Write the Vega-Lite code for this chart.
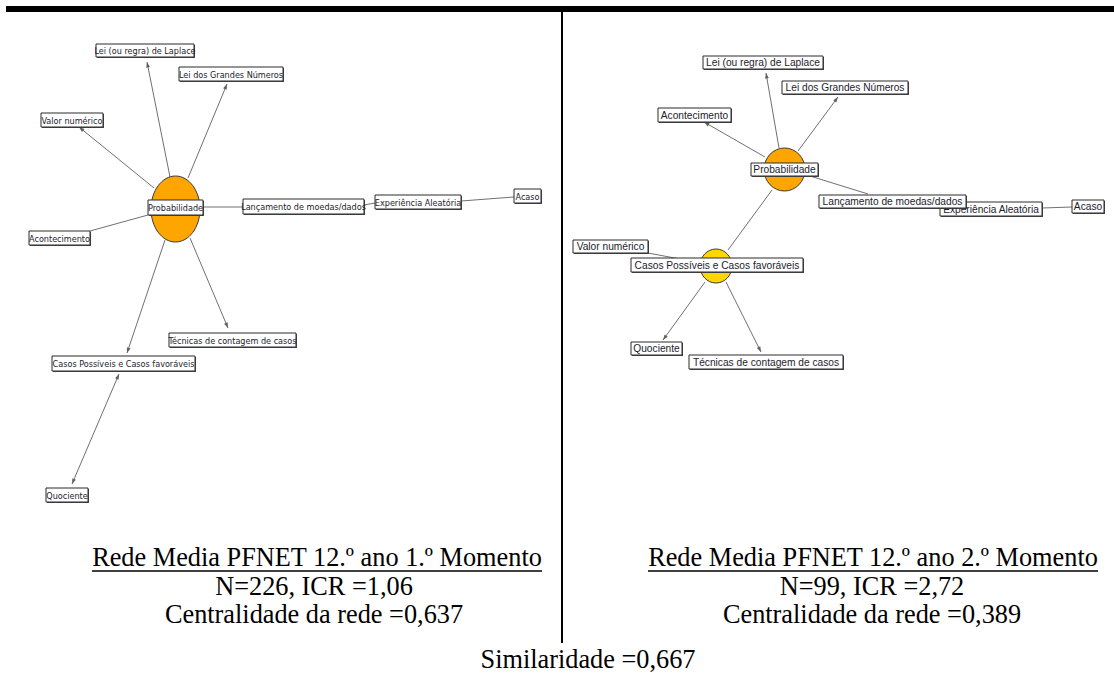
{
  "$schema": "https://vega.github.io/schema/vega-lite/v6.json",
  "width": 1114,
  "height": 678,
  "autosize": {"type": "fit", "contains": "padding"},
  "padding": 0,
  "background": "white",
  "config": {"view": {"stroke": null}},
  "datasets": {
    "nodes": [
      {"p": 1, "label": "Probabilidade", "x1": 148, "x2": 203, "y1": 200, "y2": 215},
      {"p": 1, "label": "Lei (ou regra) de Laplace", "x1": 96, "x2": 194, "y1": 44, "y2": 57},
      {"p": 1, "label": "Lei dos Grandes Números", "x1": 179, "x2": 283, "y1": 67, "y2": 81},
      {"p": 1, "label": "Valor numérico", "x1": 41, "x2": 103, "y1": 113, "y2": 127},
      {"p": 1, "label": "Acontecimento", "x1": 29, "x2": 90, "y1": 231, "y2": 245},
      {"p": 1, "label": "Lançamento de moedas/dados", "x1": 243, "x2": 364, "y1": 199, "y2": 214},
      {"p": 1, "label": "Experiência Aleatória", "x1": 375, "x2": 461, "y1": 195, "y2": 209},
      {"p": 1, "label": "Acaso", "x1": 514, "x2": 541, "y1": 189, "y2": 203},
      {"p": 1, "label": "Técnicas de contagem de casos", "x1": 169, "x2": 296, "y1": 333, "y2": 347},
      {"p": 1, "label": "Casos Possíveis e Casos favoráveis", "x1": 52, "x2": 195, "y1": 356, "y2": 371},
      {"p": 1, "label": "Quociente", "x1": 46, "x2": 88, "y1": 488, "y2": 502},
      {"p": 2, "label": "Probabilidade", "x1": 751, "x2": 818, "y1": 163, "y2": 176},
      {"p": 2, "label": "Lei (ou regra) de Laplace", "x1": 703, "x2": 823, "y1": 56, "y2": 69},
      {"p": 2, "label": "Lei dos Grandes Números", "x1": 782, "x2": 908, "y1": 81, "y2": 94},
      {"p": 2, "label": "Acontecimento", "x1": 658, "x2": 731, "y1": 108, "y2": 122},
      {"p": 2, "label": "Experiência Aleatória", "x1": 940, "x2": 1042, "y1": 202, "y2": 216},
      {"p": 2, "label": "Lançamento de moedas/dados", "x1": 819, "x2": 966, "y1": 195, "y2": 208, "top": true},
      {"p": 2, "label": "Acaso", "x1": 1072, "x2": 1104, "y1": 200, "y2": 213},
      {"p": 2, "label": "Casos Possíveis e Casos favoráveis", "x1": 631, "x2": 803, "y1": 258, "y2": 272},
      {"p": 2, "label": "Valor numérico", "x1": 573, "x2": 648, "y1": 240, "y2": 253},
      {"p": 2, "label": "Quociente", "x1": 631, "x2": 682, "y1": 342, "y2": 355},
      {"p": 2, "label": "Técnicas de contagem de casos", "x1": 689, "x2": 843, "y1": 355, "y2": 369}
    ],
    "edges": [
      {"p": 1, "x": 170, "y": 177, "x2": 147, "y2": 62, "arrow": "end"},
      {"p": 1, "x": 188, "y": 178, "x2": 227, "y2": 84, "arrow": "end"},
      {"p": 1, "x": 154, "y": 188, "x2": 79, "y2": 127, "arrow": "end"},
      {"p": 1, "x": 148, "y": 215, "x2": 90, "y2": 231, "arrow": "none"},
      {"p": 1, "x": 203, "y": 207, "x2": 243, "y2": 207, "arrow": "none"},
      {"p": 1, "x": 364, "y": 205, "x2": 375, "y2": 203, "arrow": "none"},
      {"p": 1, "x": 461, "y": 201, "x2": 514, "y2": 197, "arrow": "none"},
      {"p": 1, "x": 190, "y": 238, "x2": 228, "y2": 328, "arrow": "end"},
      {"p": 1, "x": 165, "y": 240, "x2": 127, "y2": 353, "arrow": "end"},
      {"p": 1, "x": 119, "y": 374, "x2": 72, "y2": 484, "arrow": "both"},
      {"p": 2, "x": 779, "y": 148, "x2": 766, "y2": 73, "arrow": "end"},
      {"p": 2, "x": 798, "y": 151, "x2": 838, "y2": 97, "arrow": "end"},
      {"p": 2, "x": 765, "y": 157, "x2": 704, "y2": 122, "arrow": "end"},
      {"p": 2, "x": 810, "y": 176, "x2": 868, "y2": 194, "arrow": "none"},
      {"p": 2, "x": 772, "y": 190, "x2": 728, "y2": 250, "arrow": "none"},
      {"p": 2, "x": 1042, "y": 208, "x2": 1072, "y2": 207, "arrow": "none"},
      {"p": 2, "x": 648, "y": 253, "x2": 680, "y2": 259, "arrow": "none"},
      {"p": 2, "x": 705, "y": 282, "x2": 663, "y2": 340, "arrow": "end"},
      {"p": 2, "x": 726, "y": 282, "x2": 761, "y2": 352, "arrow": "end"}
    ],
    "captions": [
      {"x": 317, "y": 566, "text": "Rede Media PFNET 12.º ano 1.º Momento"},
      {"x": 314, "y": 595, "text": "N=226, ICR =1,06"},
      {"x": 314, "y": 623, "text": "Centralidade da rede =0,637"},
      {"x": 873, "y": 566, "text": "Rede Media PFNET 12.º ano 2.º Momento"},
      {"x": 872, "y": 595, "text": "N=99, ICR =2,72"},
      {"x": 872, "y": 623, "text": "Centralidade da rede =0,389"},
      {"x": 588, "y": 668, "text": "Similaridade =0,667"}
    ],
    "rules": [
      {"kind": "underline", "x": 92, "x2": 542, "y": 571, "y2": 571},
      {"kind": "underline", "x": 648, "x2": 1098, "y": 571, "y2": 571},
      {"kind": "divider", "x": 562, "x2": 562, "y": 12, "y2": 643}
    ],
    "bars": [
      {"x": 6, "x2": 1114, "y": 6, "y2": 12}
    ]
  },
  "layer": [
    {
      "data": {"name": "bars"},
      "mark": {"type": "rect", "fill": "black"},
      "encoding": {
        "x": {"field": "x", "type": "quantitative", "scale": {"domain": [0, 1114], "nice": false, "zero": false}, "axis": null},
        "x2": {"field": "x2"},
        "y": {"field": "y", "type": "quantitative", "scale": {"domain": [0, 678], "nice": false, "zero": false, "reverse": true}, "axis": null},
        "y2": {"field": "y2"}
      }
    },
    {
      "data": {"name": "rules"},
      "transform": [{"filter": "datum.kind == 'divider'"}],
      "mark": {"type": "rule", "color": "black", "strokeWidth": 2},
      "encoding": {
        "x": {"field": "x", "type": "quantitative", "scale": {"domain": [0, 1114], "nice": false, "zero": false}, "axis": null},
        "x2": {"field": "x2"},
        "y": {"field": "y", "type": "quantitative", "scale": {"domain": [0, 678], "nice": false, "zero": false, "reverse": true}, "axis": null},
        "y2": {"field": "y2"}
      }
    },
    {
      "data": {"name": "rules"},
      "transform": [{"filter": "datum.kind == 'underline'"}],
      "mark": {"type": "rule", "color": "black", "strokeWidth": 1.5},
      "encoding": {
        "x": {"field": "x", "type": "quantitative", "scale": {"domain": [0, 1114], "nice": false, "zero": false}, "axis": null},
        "x2": {"field": "x2"},
        "y": {"field": "y", "type": "quantitative", "scale": {"domain": [0, 678], "nice": false, "zero": false, "reverse": true}, "axis": null},
        "y2": {"field": "y2"}
      }
    },
    {
      "data": {"name": "edges"},
      "mark": {"type": "rule", "color": "#707070", "strokeWidth": 1},
      "encoding": {
        "x": {"field": "x", "type": "quantitative", "scale": {"domain": [0, 1114], "nice": false, "zero": false}, "axis": null},
        "x2": {"field": "x2"},
        "y": {"field": "y", "type": "quantitative", "scale": {"domain": [0, 678], "nice": false, "zero": false, "reverse": true}, "axis": null},
        "y2": {"field": "y2"}
      }
    },
    {
      "data": {"name": "edges"},
      "transform": [
        {"filter": "datum.arrow != 'none'"},
        {"calculate": "atan2(datum.x2 - datum.x, datum.y - datum.y2) * 180 / PI", "as": "angle"}
      ],
      "mark": {"type": "point", "shape": "M 0 0 L 0.7 2 L -0.7 2 Z", "size": 30, "filled": true, "fill": "#606060", "strokeWidth": 0, "opacity": 1},
      "encoding": {
        "x": {"field": "x2", "type": "quantitative", "scale": {"domain": [0, 1114], "nice": false, "zero": false}, "axis": null},
        "y": {"field": "y2", "type": "quantitative", "scale": {"domain": [0, 678], "nice": false, "zero": false, "reverse": true}, "axis": null},
        "angle": {"field": "angle", "type": "quantitative", "scale": null}
      }
    },
    {
      "data": {"name": "edges"},
      "transform": [
        {"filter": "datum.arrow == 'both'"},
        {"calculate": "atan2(datum.x - datum.x2, datum.y2 - datum.y) * 180 / PI", "as": "angle"}
      ],
      "mark": {"type": "point", "shape": "M 0 0 L 0.7 2 L -0.7 2 Z", "size": 30, "filled": true, "fill": "#606060", "strokeWidth": 0, "opacity": 1},
      "encoding": {
        "x": {"field": "x", "type": "quantitative", "scale": {"domain": [0, 1114], "nice": false, "zero": false}, "axis": null},
        "y": {"field": "y", "type": "quantitative", "scale": {"domain": [0, 678], "nice": false, "zero": false, "reverse": true}, "axis": null},
        "angle": {"field": "angle", "type": "quantitative", "scale": null}
      }
    },
    {
      "data": {"name": "nodes"},
      "transform": [
        {"filter": "datum.p == 1 && datum.label == 'Probabilidade'"},
        {"calculate": "(datum.x1 + datum.x2) / 2", "as": "cx"},
        {"calculate": "(datum.y1 + datum.y2) / 2 + 1.5", "as": "cy"}
      ],
      "mark": {"type": "point", "shape": "M -0.742 0 A 0.742 1 0 1 0 0.742 0 A 0.742 1 0 1 0 -0.742 0 Z", "size": 4356, "filled": true, "fill": "#FFA500", "stroke": "#3a3a3a", "strokeWidth": 1, "opacity": 1},
      "encoding": {
        "x": {"field": "cx", "type": "quantitative", "scale": {"domain": [0, 1114], "nice": false, "zero": false}, "axis": null},
        "y": {"field": "cy", "type": "quantitative", "scale": {"domain": [0, 678], "nice": false, "zero": false, "reverse": true}, "axis": null}
      }
    },
    {
      "data": {"name": "nodes"},
      "transform": [
        {"filter": "datum.p == 2 && datum.label == 'Probabilidade'"},
        {"calculate": "(datum.x1 + datum.x2) / 2", "as": "cx"},
        {"calculate": "(datum.y1 + datum.y2) / 2", "as": "cy"}
      ],
      "mark": {"type": "point", "shape": "M -0.953 0 A 0.953 1 0 1 0 0.953 0 A 0.953 1 0 1 0 -0.953 0 Z", "size": 1849, "filled": true, "fill": "#FFA500", "stroke": "#3a3a3a", "strokeWidth": 1, "opacity": 1},
      "encoding": {
        "x": {"field": "cx", "type": "quantitative", "scale": {"domain": [0, 1114], "nice": false, "zero": false}, "axis": null},
        "y": {"field": "cy", "type": "quantitative", "scale": {"domain": [0, 678], "nice": false, "zero": false, "reverse": true}, "axis": null}
      }
    },
    {
      "data": {"name": "nodes"},
      "transform": [
        {"filter": "datum.p == 2 && datum.label == 'Casos Possíveis e Casos favoráveis'"},
        {"calculate": "(datum.x1 + datum.x2) / 2 - 1", "as": "cx"},
        {"calculate": "(datum.y1 + datum.y2) / 2 + 1", "as": "cy"}
      ],
      "mark": {"type": "point", "shape": "M -0.94 0 A 0.94 1 0 1 0 0.94 0 A 0.94 1 0 1 0 -0.94 0 Z", "size": 1156, "filled": true, "fill": "#FFD700", "stroke": "#3a3a3a", "strokeWidth": 1, "opacity": 1},
      "encoding": {
        "x": {"field": "cx", "type": "quantitative", "scale": {"domain": [0, 1114], "nice": false, "zero": false}, "axis": null},
        "y": {"field": "cy", "type": "quantitative", "scale": {"domain": [0, 678], "nice": false, "zero": false, "reverse": true}, "axis": null}
      }
    },
    {
      "data": {"name": "nodes"},
      "transform": [{"filter": "!datum.top"}],
      "mark": {"type": "rect", "fill": "#4a4a4a", "xOffset": 1, "x2Offset": 1, "yOffset": 1, "y2Offset": 1},
      "encoding": {
        "x": {"field": "x1", "type": "quantitative", "scale": {"domain": [0, 1114], "nice": false, "zero": false}, "axis": null},
        "x2": {"field": "x2"},
        "y": {"field": "y1", "type": "quantitative", "scale": {"domain": [0, 678], "nice": false, "zero": false, "reverse": true}, "axis": null},
        "y2": {"field": "y2"}
      }
    },
    {
      "data": {"name": "nodes"},
      "transform": [{"filter": "!datum.top"}],
      "mark": {"type": "rect", "fill": "white", "stroke": "#2a2a2a", "strokeWidth": 1},
      "encoding": {
        "x": {"field": "x1", "type": "quantitative", "scale": {"domain": [0, 1114], "nice": false, "zero": false}, "axis": null},
        "x2": {"field": "x2"},
        "y": {"field": "y1", "type": "quantitative", "scale": {"domain": [0, 678], "nice": false, "zero": false, "reverse": true}, "axis": null},
        "y2": {"field": "y2"}
      }
    },
    {
      "data": {"name": "nodes"},
      "transform": [
        {"filter": "datum.p == 1"},
        {"calculate": "(datum.x1 + datum.x2) / 2", "as": "cx"},
        {"calculate": "(datum.y1 + datum.y2) / 2", "as": "cy"}
      ],
      "mark": {"type": "text", "align": "center", "baseline": "middle", "dy": 0.5, "font": "DejaVu Sans Condensed, Liberation Sans", "fontSize": 9, "color": "#1c1c2c"},
      "encoding": {
        "x": {"field": "cx", "type": "quantitative", "scale": {"domain": [0, 1114], "nice": false, "zero": false}, "axis": null},
        "y": {"field": "cy", "type": "quantitative", "scale": {"domain": [0, 678], "nice": false, "zero": false, "reverse": true}, "axis": null},
        "text": {"field": "label"}
      }
    },
    {
      "data": {"name": "nodes"},
      "transform": [
        {"filter": "datum.p == 2 && !datum.top"},
        {"calculate": "(datum.x1 + datum.x2) / 2", "as": "cx"},
        {"calculate": "(datum.y1 + datum.y2) / 2", "as": "cy"}
      ],
      "mark": {"type": "text", "align": "center", "baseline": "middle", "dy": 0.5, "font": "Liberation Sans", "fontSize": 10.2, "color": "#1c1c2c"},
      "encoding": {
        "x": {"field": "cx", "type": "quantitative", "scale": {"domain": [0, 1114], "nice": false, "zero": false}, "axis": null},
        "y": {"field": "cy", "type": "quantitative", "scale": {"domain": [0, 678], "nice": false, "zero": false, "reverse": true}, "axis": null},
        "text": {"field": "label"}
      }
    },
    {
      "data": {"name": "nodes"},
      "transform": [{"filter": "datum.top"}],
      "mark": {"type": "rect", "fill": "#4a4a4a", "xOffset": 1, "x2Offset": 1, "yOffset": 1, "y2Offset": 1},
      "encoding": {
        "x": {"field": "x1", "type": "quantitative", "scale": {"domain": [0, 1114], "nice": false, "zero": false}, "axis": null},
        "x2": {"field": "x2"},
        "y": {"field": "y1", "type": "quantitative", "scale": {"domain": [0, 678], "nice": false, "zero": false, "reverse": true}, "axis": null},
        "y2": {"field": "y2"}
      }
    },
    {
      "data": {"name": "nodes"},
      "transform": [{"filter": "datum.top"}],
      "mark": {"type": "rect", "fill": "white", "stroke": "#2a2a2a", "strokeWidth": 1},
      "encoding": {
        "x": {"field": "x1", "type": "quantitative", "scale": {"domain": [0, 1114], "nice": false, "zero": false}, "axis": null},
        "x2": {"field": "x2"},
        "y": {"field": "y1", "type": "quantitative", "scale": {"domain": [0, 678], "nice": false, "zero": false, "reverse": true}, "axis": null},
        "y2": {"field": "y2"}
      }
    },
    {
      "data": {"name": "nodes"},
      "transform": [
        {"filter": "datum.top"},
        {"calculate": "(datum.x1 + datum.x2) / 2", "as": "cx"},
        {"calculate": "(datum.y1 + datum.y2) / 2", "as": "cy"}
      ],
      "mark": {"type": "text", "align": "center", "baseline": "middle", "dy": 0.5, "font": "Liberation Sans", "fontSize": 10.2, "color": "#1c1c2c"},
      "encoding": {
        "x": {"field": "cx", "type": "quantitative", "scale": {"domain": [0, 1114], "nice": false, "zero": false}, "axis": null},
        "y": {"field": "cy", "type": "quantitative", "scale": {"domain": [0, 678], "nice": false, "zero": false, "reverse": true}, "axis": null},
        "text": {"field": "label"}
      }
    },
    {
      "data": {"name": "captions"},
      "mark": {"type": "text", "align": "center", "baseline": "alphabetic", "font": "Liberation Serif", "fontSize": 26.3, "color": "black"},
      "encoding": {
        "x": {"field": "x", "type": "quantitative", "scale": {"domain": [0, 1114], "nice": false, "zero": false}, "axis": null},
        "y": {"field": "y", "type": "quantitative", "scale": {"domain": [0, 678], "nice": false, "zero": false, "reverse": true}, "axis": null},
        "text": {"field": "text"}
      }
    }
  ]
}
